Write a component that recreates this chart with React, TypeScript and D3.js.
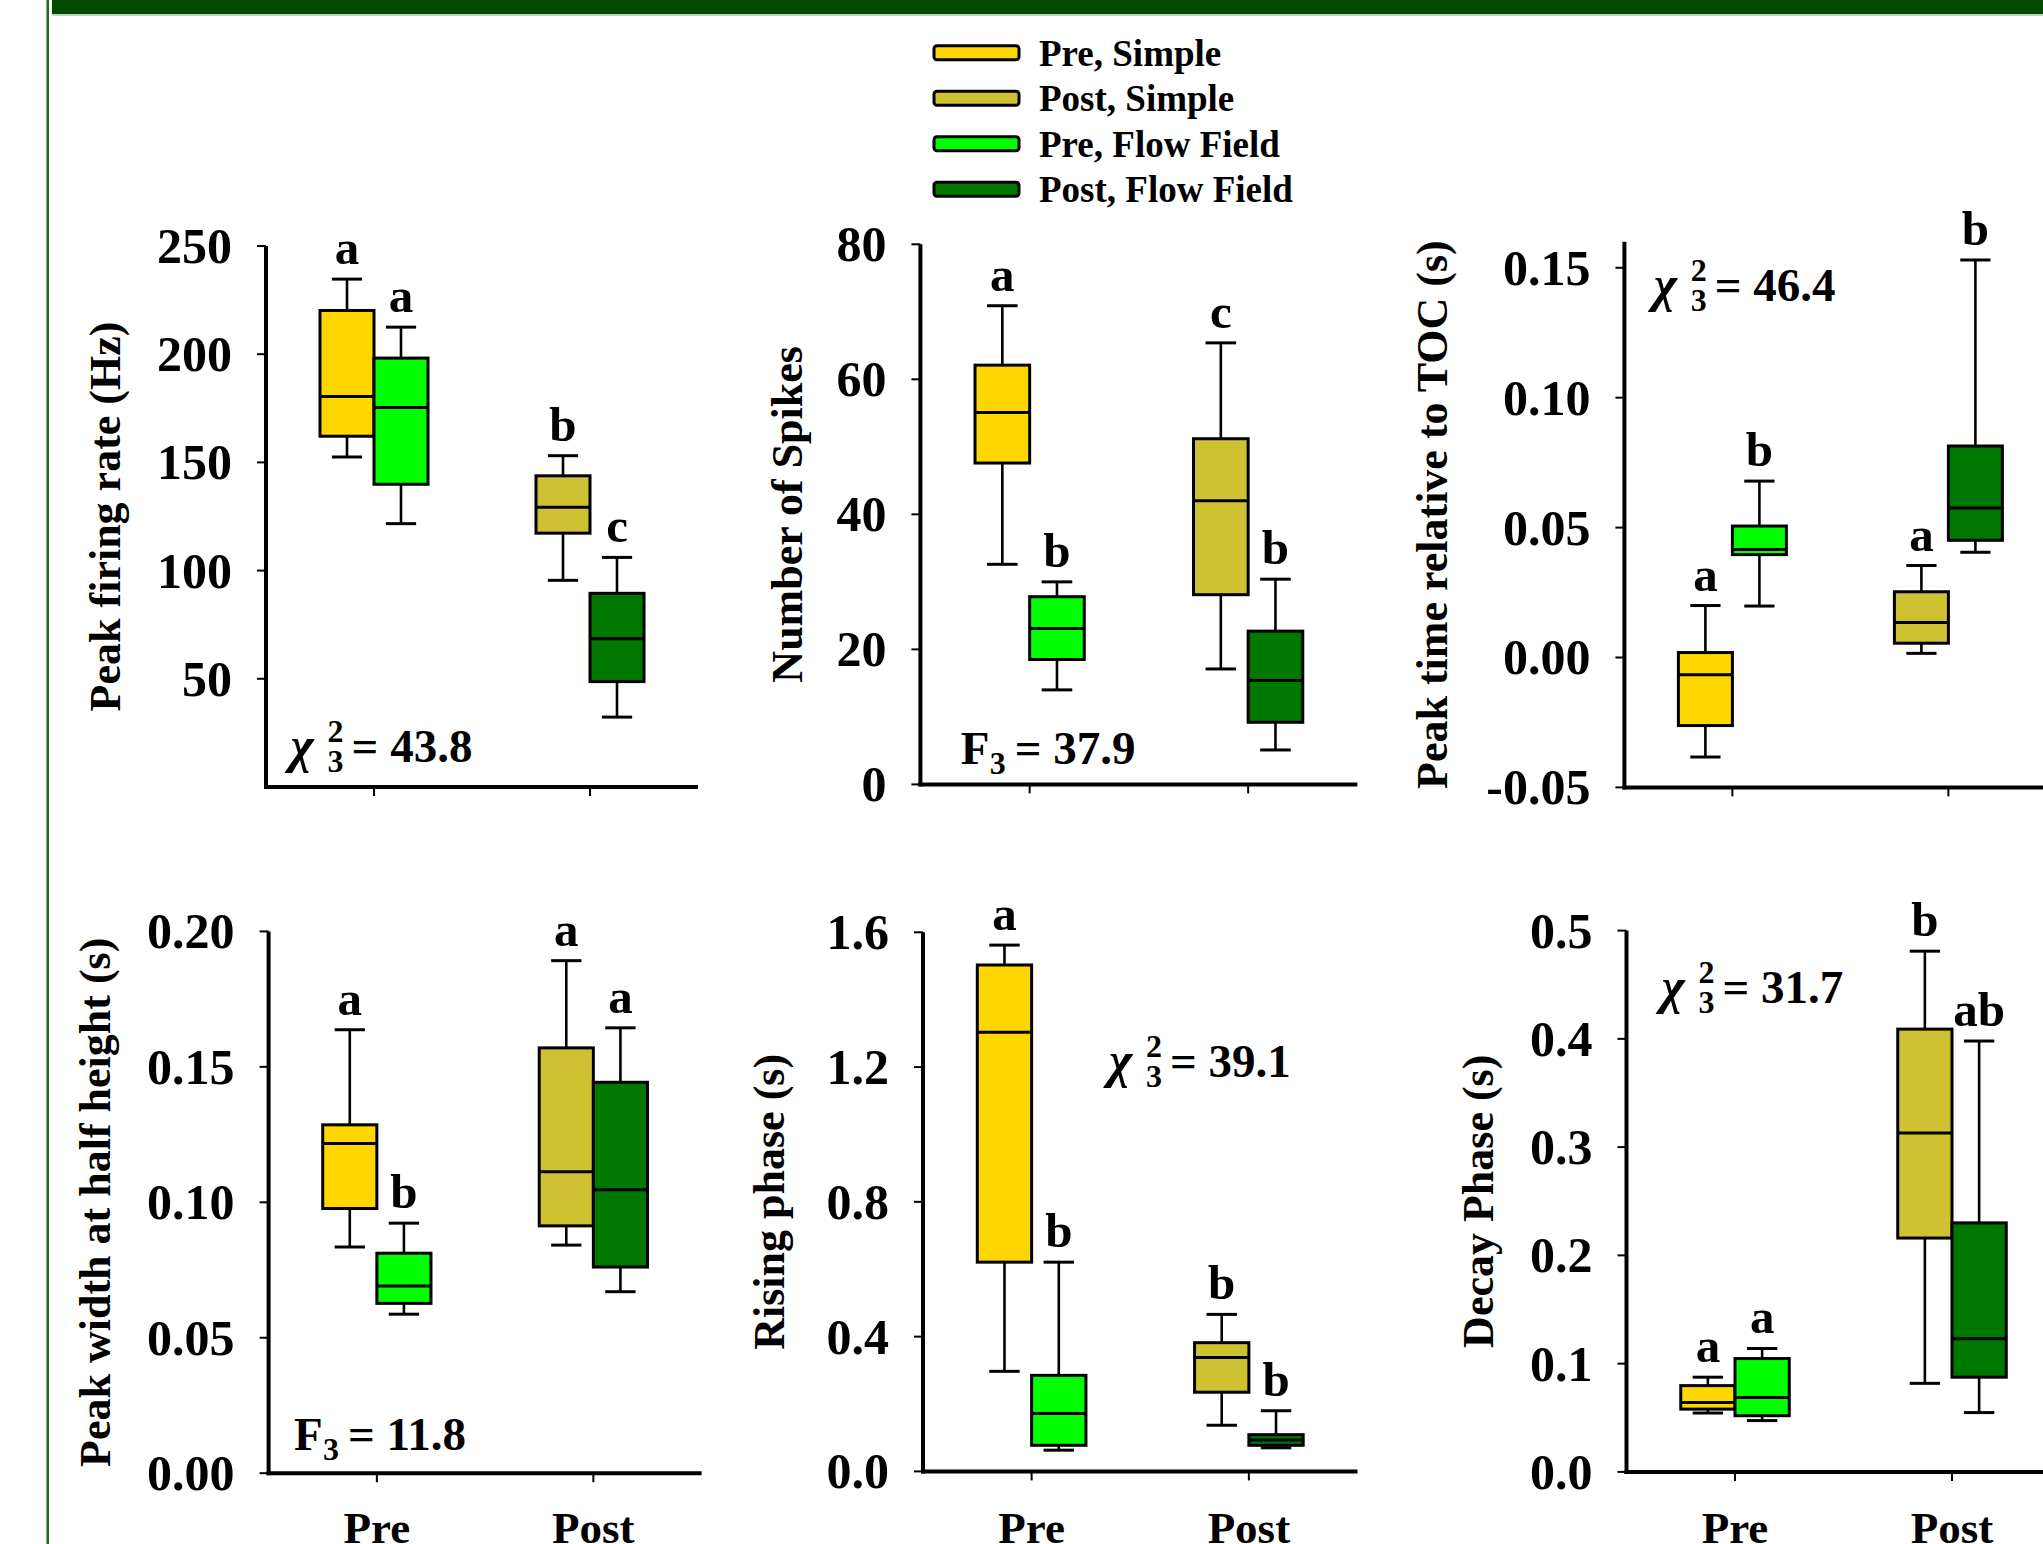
import React from "react";
import * as d3 from "d3";

const W = 2043;
const H = 1544;
const FONT = "'Liberation Serif', 'Times New Roman', serif";

// ---------- categories / series ----------
const timepoints = ["Pre", "Post"];
const seriesNames = ["Pre, Simple", "Post, Simple", "Pre, Flow Field", "Post, Flow Field"];
const seriesTime = ["Pre", "Post", "Pre", "Post"];
const seriesSide = [0, 0, 1, 1]; // 0 = Simple (left box), 1 = Flow Field (right box)
const seriesColors = ["#FFD700", "#CFC232", "#00FF00", "#007800"];

// ---------- box statistics [min, q1, median, q3, max], in seriesNames order ----------
const peakRateStats = [
  [152.5, 162.1, 180.5, 220.2, 234.7],
  [95.5, 117.3, 129.3, 143.8, 153.1],
  [121.7, 139.9, 175.4, 198.2, 212.5],
  [32.3, 48.7, 68.5, 89.5, 106.1],
];
const peakRateLetters = ["a", "b", "a", "c"];
const peakRateTicks = [50, 100, 150, 200, 250];
const peakRateTickLabels = ["50", "100", "150", "200", "250"];

const spikesStats = [
  [32.6, 47.6, 55.1, 62.1, 70.9],
  [17.1, 28.1, 42.0, 51.2, 65.4],
  [14.0, 18.5, 23.1, 27.8, 30.0],
  [5.1, 9.2, 15.4, 22.7, 30.4],
];
const spikesLetters = ["a", "c", "b", "b"];
const spikesTicks = [0, 20, 40, 60, 80];
const spikesTickLabels = ["0", "20", "40", "60", "80"];

const peakTimeStats = [
  [-0.0383, -0.0262, -0.0066, 0.0019, 0.02],
  [0.0016, 0.0055, 0.0135, 0.0253, 0.0354],
  [0.0198, 0.0396, 0.0416, 0.0506, 0.0679],
  [0.0405, 0.0451, 0.0575, 0.0814, 0.153],
];
const peakTimeLetters = ["a", "a", "b", "b"];
const peakTimeTicks = [-0.05, 0, 0.05, 0.1, 0.15];
const peakTimeTickLabels = ["-0.05", "0.00", "0.05", "0.10", "0.15"];

const widthStats = [
  [0.0835, 0.0977, 0.1217, 0.1286, 0.1637],
  [0.0842, 0.0913, 0.1113, 0.157, 0.1892],
  [0.0587, 0.0627, 0.0691, 0.0812, 0.0923],
  [0.067, 0.0761, 0.1046, 0.1443, 0.1644],
];
const widthLetters = ["a", "a", "b", "a"];
const widthTicks = [0, 0.05, 0.1, 0.15, 0.2];
const widthTickLabels = ["0.00", "0.05", "0.10", "0.15", "0.20"];

const risingStats = [
  [0.297, 0.621, 1.303, 1.503, 1.562],
  [0.137, 0.235, 0.338, 0.382, 0.466],
  [0.063, 0.0775, 0.172, 0.285, 0.621],
  [0.07, 0.0775, 0.093, 0.109, 0.18],
];
const risingLetters = ["a", "b", "b", "b"];
const risingTicks = [0, 0.4, 0.8, 1.2, 1.6];
const risingTickLabels = ["0.0", "0.4", "0.8", "1.2", "1.6"];

const decayStats = [
  [0.0544, 0.058, 0.0642, 0.0797, 0.0875],
  [0.0818, 0.216, 0.313, 0.409, 0.481],
  [0.0474, 0.0519, 0.0687, 0.1047, 0.114],
  [0.0548, 0.0875, 0.123, 0.23, 0.398],
];
const decayLetters = ["a", "b", "a", "ab"];
const decayTicks = [0, 0.1, 0.2, 0.3, 0.4, 0.5];
const decayTickLabels = ["0.0", "0.1", "0.2", "0.3", "0.4", "0.5"];

// ---------- panel table (layout + references to the data above) ----------
const panels = [
  {
    stats: peakRateStats, letters: peakRateLetters, ticks: peakRateTicks, tickLabels: peakRateTickLabels,
    domain: [0, 250], label: "Peak firing rate (Hz)", stat: { kind: "chi", value: "43.8", x: 291.6, y: 761.5 },
    x0: 266, w: 432, yBottom: 787, yTop: 246, labelX: 120, xLabels: false,
  },
  {
    stats: spikesStats, letters: spikesLetters, ticks: spikesTicks, tickLabels: spikesTickLabels,
    domain: [0, 80], label: "Number of Spikes", stat: { kind: "F", value: "37.9", x: 960.7, y: 763.5 },
    x0: 920.4, w: 437, yBottom: 784.4, yTop: 244.3, labelX: 802, xLabels: false,
  },
  {
    stats: peakTimeStats, letters: peakTimeLetters, ticks: peakTimeTicks, tickLabels: peakTimeTickLabels,
    domain: [-0.05, 0.16], label: "Peak time relative to TOC (s)", stat: { kind: "chi", value: "46.4", x: 1654.8, y: 301.2 },
    x0: 1624.4, w: 432, yBottom: 787.4, yTop: 241.8, labelX: 1447, xLabels: false,
  },
  {
    stats: widthStats, letters: widthLetters, ticks: widthTicks, tickLabels: widthTickLabels,
    domain: [0, 0.2], label: "Peak width at half height (s)", stat: { kind: "F", value: "11.8", x: 293.9, y: 1449.7 },
    x0: 268.6, w: 433, yBottom: 1473.2, yTop: 931.4, labelX: 110, xLabels: true,
  },
  {
    stats: risingStats, letters: risingLetters, ticks: risingTicks, tickLabels: risingTickLabels,
    domain: [0, 1.6], label: "Rising phase (s)", stat: { kind: "chi", value: "39.1", x: 1110, y: 1076.6 },
    x0: 923, w: 434.5, yBottom: 1471.4, yTop: 932.3, labelX: 784, xLabels: true,
  },
  {
    stats: decayStats, letters: decayLetters, ticks: decayTicks, tickLabels: decayTickLabels,
    domain: [0, 0.5], label: "Decay Phase (s)", stat: { kind: "chi", value: "31.7", x: 1662.4, y: 1002.7 },
    x0: 1626.5, w: 434, yBottom: 1471.9, yTop: 930.6, labelX: 1493, xLabels: true,
  },
];

function Stat({ kind, value, x, y }: { kind: string; value: string; x: number; y: number }) {
  if (kind === "chi") {
    return (
      <g fontFamily={FONT} fontWeight="bold" fill="#000">
        <text x={x - 1} y={y} fontSize={50} fontStyle="italic">χ</text>
        <text x={x + 36} y={y - 20} fontSize={32}>2</text>
        <text x={x + 36} y={y + 10} fontSize={32}>3</text>
        <text x={x + 60} y={y} fontSize={47}>= {value}</text>
      </g>
    );
  }
  return (
    <g fontFamily={FONT} fontWeight="bold" fill="#000">
      <text x={x} y={y} fontSize={47}>F</text>
      <text x={x + 29} y={y + 10} fontSize={32}>3</text>
      <text x={x + 54} y={y} fontSize={47}>= {value}</text>
    </g>
  );
}

function Panel({ p }: { p: any }) {
  const y = d3.scaleLinear().domain(p.domain).range([p.yBottom, p.yTop]);
  const xb = d3.scaleBand().domain(timepoints).range([p.x0, p.x0 + p.w]);
  const bw = xb.bandwidth();
  const boxW = bw * 0.25;
  const capW = boxW * 0.56;
  const center = (g: string) => (xb(g) as number) + bw / 2;
  const yMid = (p.yBottom + p.yTop) / 2;

  return (
    <g>
      {p.stats.map((s: number[], i: number) => {
        const c = center(seriesTime[i]);
        const left = seriesSide[i] === 0 ? c - boxW : c;
        const cx = left + boxW / 2;
        const [mn, q1, md, q3, mx] = s;
        return (
          <g key={i}>
            <line x1={cx} x2={cx} y1={y(q3)} y2={y(mx)} stroke="#000" strokeWidth={2.6} />
            <line x1={cx} x2={cx} y1={y(q1)} y2={y(mn)} stroke="#000" strokeWidth={2.6} />
            <line x1={cx - capW / 2} x2={cx + capW / 2} y1={y(mx)} y2={y(mx)} stroke="#000" strokeWidth={3} />
            <line x1={cx - capW / 2} x2={cx + capW / 2} y1={y(mn)} y2={y(mn)} stroke="#000" strokeWidth={3} />
            <rect x={left} y={y(q3)} width={boxW} height={y(q1) - y(q3)} fill={seriesColors[i]} stroke="#000" strokeWidth={3} />
            <line x1={left} x2={left + boxW} y1={y(md)} y2={y(md)} stroke="#000" strokeWidth={3} />
            <text x={cx} y={y(mx) - 15} textAnchor="middle" fontFamily={FONT} fontWeight="bold" fontSize={49}>
              {p.letters[i]}
            </text>
          </g>
        );
      })}
      <line x1={p.x0} x2={p.x0} y1={p.yBottom + 2} y2={p.yTop} stroke="#000" strokeWidth={4} />
      <line x1={p.x0 - 2} x2={p.x0 + p.w} y1={p.yBottom} y2={p.yBottom} stroke="#000" strokeWidth={4} />
      {p.ticks.map((t: number, i: number) => (
        <g key={"t" + i}>
          <line x1={p.x0 - 9} x2={p.x0} y1={y(t)} y2={y(t)} stroke="#000" strokeWidth={2} />
          <text x={p.x0 - 34} y={y(t)} dy="0.34em" textAnchor="end" fontFamily={FONT} fontWeight="bold" fontSize={50}>
            {p.tickLabels[i]}
          </text>
        </g>
      ))}
      {timepoints.map((g) => (
        <g key={g}>
          <line x1={center(g)} x2={center(g)} y1={p.yBottom} y2={p.yBottom + 9} stroke="#000" strokeWidth={2} />
          {p.xLabels && (
            <text x={center(g)} y={1543} textAnchor="middle" fontFamily={FONT} fontWeight="bold" fontSize={45}>
              {g}
            </text>
          )}
        </g>
      ))}
      <text
        transform={`translate(${p.labelX},${yMid}) rotate(-90)`}
        textAnchor="middle"
        fontFamily={FONT}
        fontWeight="bold"
        fontSize={44}
      >
        {p.label}
      </text>
      <Stat {...p.stat} />
    </g>
  );
}

function Legend() {
  const rowY = d3.scalePoint().domain(seriesNames).range([52.7, 189.3]);
  return (
    <g>
      {seriesNames.map((n, i) => {
        const cy = rowY(n) as number;
        return (
          <g key={n}>
            <rect x={934} y={cy - 7} width={85} height={14} rx={3} fill={seriesColors[i]} stroke="#000" strokeWidth={3} />
            <text x={1039} y={cy + 13} fontFamily={FONT} fontWeight="bold" fontSize={37}>
              {n}
            </text>
          </g>
        );
      })}
    </g>
  );
}

export default function App() {
  return (
    <svg
      width={W}
      height={H}
      viewBox={`0 0 ${W} ${H}`}
      style={{ position: "absolute", left: 0, top: 0, background: "#fff" }}
    >
      <rect x={0} y={0} width={W} height={H} fill="#fff" />
      <rect x={52} y={0} width={W - 52} height={14} fill="#034a03" />
      <rect x={52} y={14} width={W - 52} height={2} fill="#b9d9b9" />
      <rect x={46.5} y={0} width={2.5} height={H} fill="#1f6a1f" />
      <Legend />
      {panels.map((p, i) => (
        <Panel key={i} p={p} />
      ))}
    </svg>
  );
}
